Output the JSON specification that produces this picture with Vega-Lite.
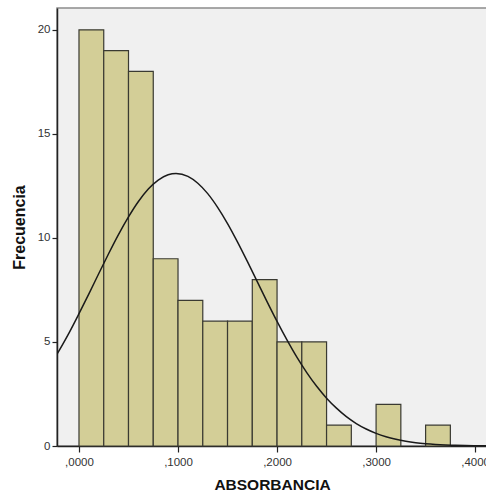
{
  "$schema": "https://vega.github.io/schema/vega-lite/v6.json",
  "autosize": "none",
  "padding": {"left": 57, "top": 8, "right": 0, "bottom": 48},
  "width": 430,
  "height": 438,
  "background": "#FFFFFF",
  "config": {
    "font": "Liberation Sans",
    "view": {"fill": "#F0F0F0", "stroke": "#8C8C8C", "strokeWidth": 1.5}
  },
  "datasets": {
    "bins": [
      {"start": 0.000, "end": 0.025, "count": 20},
      {"start": 0.025, "end": 0.050, "count": 19},
      {"start": 0.050, "end": 0.075, "count": 18},
      {"start": 0.075, "end": 0.100, "count": 9},
      {"start": 0.100, "end": 0.125, "count": 7},
      {"start": 0.125, "end": 0.150, "count": 6},
      {"start": 0.150, "end": 0.175, "count": 6},
      {"start": 0.175, "end": 0.200, "count": 8},
      {"start": 0.200, "end": 0.225, "count": 5},
      {"start": 0.225, "end": 0.250, "count": 5},
      {"start": 0.250, "end": 0.275, "count": 1},
      {"start": 0.300, "end": 0.325, "count": 2},
      {"start": 0.350, "end": 0.375, "count": 1}
    ],
    "curve": [
      {"x": -0.0222, "y": 4.41},
      {"x": -0.01, "y": 5.44},
      {"x": 0.0, "y": 6.36},
      {"x": 0.01, "y": 7.31},
      {"x": 0.02, "y": 8.29},
      {"x": 0.03, "y": 9.25},
      {"x": 0.04, "y": 10.17},
      {"x": 0.05, "y": 11.01},
      {"x": 0.06, "y": 11.75},
      {"x": 0.07, "y": 12.35},
      {"x": 0.08, "y": 12.78},
      {"x": 0.09, "y": 13.04},
      {"x": 0.098, "y": 13.10},
      {"x": 0.11, "y": 12.96},
      {"x": 0.12, "y": 12.63},
      {"x": 0.13, "y": 12.13},
      {"x": 0.14, "y": 11.47},
      {"x": 0.15, "y": 10.69},
      {"x": 0.16, "y": 9.81},
      {"x": 0.17, "y": 8.87},
      {"x": 0.18, "y": 7.90},
      {"x": 0.19, "y": 6.93},
      {"x": 0.20, "y": 5.99},
      {"x": 0.21, "y": 5.10},
      {"x": 0.22, "y": 4.27},
      {"x": 0.23, "y": 3.53},
      {"x": 0.24, "y": 2.87},
      {"x": 0.25, "y": 2.30},
      {"x": 0.26, "y": 1.82},
      {"x": 0.27, "y": 1.41},
      {"x": 0.28, "y": 1.08},
      {"x": 0.29, "y": 0.817},
      {"x": 0.30, "y": 0.607},
      {"x": 0.31, "y": 0.444},
      {"x": 0.32, "y": 0.321},
      {"x": 0.33, "y": 0.228},
      {"x": 0.34, "y": 0.159},
      {"x": 0.35, "y": 0.110},
      {"x": 0.36, "y": 0.075},
      {"x": 0.37, "y": 0.050},
      {"x": 0.38, "y": 0.033},
      {"x": 0.39, "y": 0.021},
      {"x": 0.40, "y": 0.014},
      {"x": 0.412, "y": 0.008}
    ]
  },
  "layer": [
    {
      "data": {"name": "bins"},
      "mark": {"type": "rect", "fill": "#D3CE97", "stroke": "#3A3A32", "strokeWidth": 1.2},
      "encoding": {
        "x": {
          "field": "start", "type": "quantitative",
          "scale": {"domain": [-0.0222, 0.412], "nice": false, "zero": false},
          "axis": {
            "values": [0, 0.1, 0.2, 0.3, 0.4],
            "labelExpr": "replace(format(datum.value, '.4f'), '0.', ',')",
            "title": "ABSORBANCIA",
            "titleFont": "Liberation Sans", "titleFontSize": 15.5, "titleFontWeight": "bold", "titleColor": "#111111",
            "titlePadding": 10,
            "labelFont": "Liberation Sans", "labelFontSize": 11.5, "labelColor": "#333333", "labelPadding": 4,
            "domainColor": "#222222", "domainWidth": 1.5,
            "tickColor": "#222222", "tickSize": 6, "tickWidth": 1.2,
            "grid": false, "labelFlush": false, "labelOverlap": false
          }
        },
        "x2": {"field": "end"},
        "y": {
          "field": "count", "type": "quantitative",
          "scale": {"domain": [0, 21.05], "nice": false},
          "axis": {
            "values": [0, 5, 10, 15, 20],
            "title": "Frecuencia",
            "titleFont": "Liberation Sans", "titleFontSize": 16, "titleFontWeight": "bold", "titleColor": "#111111",
            "titlePadding": 10,
            "labelFont": "Liberation Sans", "labelFontSize": 11.5, "labelColor": "#333333", "labelPadding": 2,
            "domainColor": "#222222", "domainWidth": 1.5,
            "tickColor": "#222222", "tickSize": 5, "tickWidth": 1.2,
            "grid": false
          }
        },
        "y2": {"datum": 0}
      }
    },
    {
      "data": {"name": "curve"},
      "mark": {"type": "line", "color": "#1A1A1A", "strokeWidth": 1.5, "interpolate": "monotone", "clip": true},
      "encoding": {
        "x": {"field": "x", "type": "quantitative"},
        "y": {"field": "y", "type": "quantitative"}
      }
    }
  ]
}
